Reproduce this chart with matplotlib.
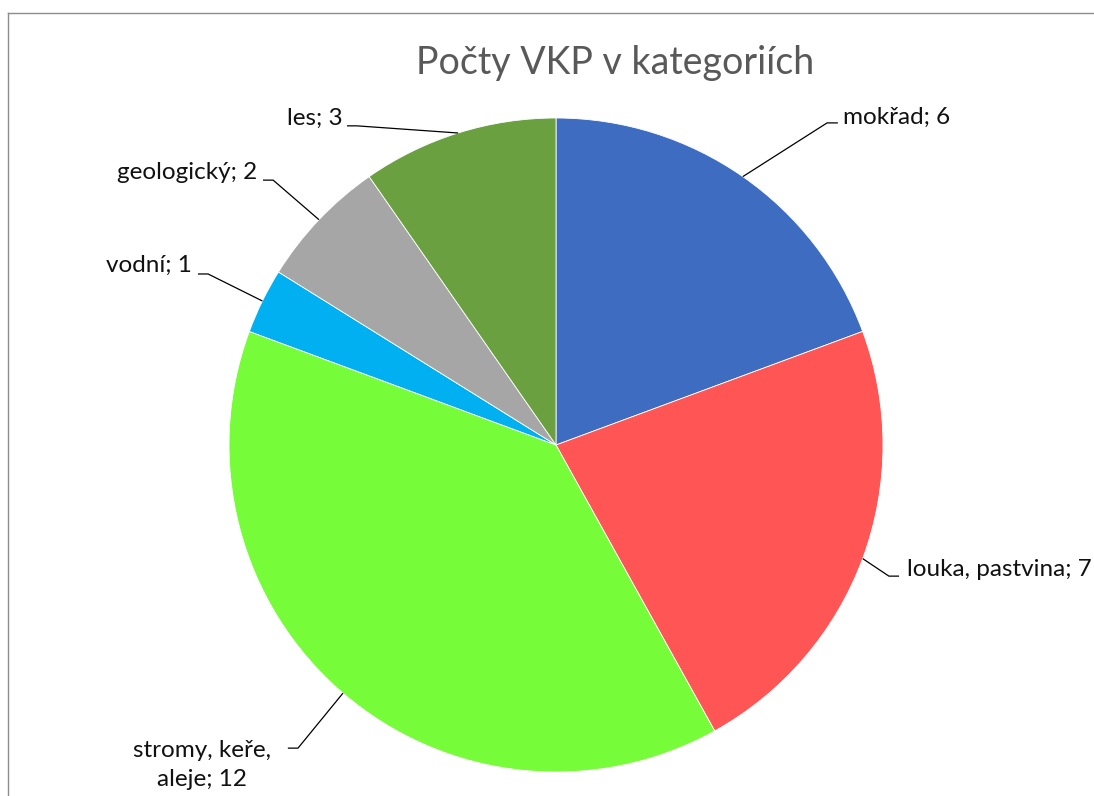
import numpy as np
import matplotlib.pyplot as plt
from matplotlib.lines import Line2D

# Data
categories = ['mokřad', 'louka, pastvina', 'stromy, keře,\naleje', 'vodní', 'geologický', 'les']
values = [6, 7, 12, 1, 2, 3]
colors = ['#3E6CC0', '#FF5555', '#76FC38', '#00B0F0', '#A6A6A6', '#6AA040']

# label layout (data coords, radius = 1): elbow, line end, text anchor, alignment
elbows = [(0.829, 0.985), (1.018, -0.401), (-0.789, -0.927), (-1.064, 0.523), (-0.865, 0.810), (-0.609, 0.976)]
ends = [(0.862, 0.985), (1.049, -0.401), (-0.820, -0.927), (-1.095, 0.523), (-0.896, 0.810), (-0.639, 0.976)]
texts_at = [(0.878, 1.003), (1.073, -0.382), (-1.083, -0.979), (-1.113, 0.550), (-0.914, 0.832), (-0.654, 1.0)]
aligns = ['left', 'left', 'center', 'right', 'right', 'right']

plt.rcParams['font.family'] = ['Lato', 'DejaVu Sans']

W, H = 1094, 796
fig = plt.figure(figsize=(W / 100, H / 100), dpi=100)
cx, cy, r = 556, 445, 327
ax = fig.add_axes([(cx - r) / W, (H - cy - r) / H, 2 * r / W, 2 * r / H])

wedges, _ = ax.pie(values, colors=colors, startangle=90, counterclock=False,
                   radius=1, wedgeprops=dict(edgecolor='white', linewidth=0.6))
ax.set_xlim(-1, 1)
ax.set_ylim(-1, 1)
ax.set_aspect('equal')
ax.axis('off')

for w, cat, val, el, en, tp, ha in zip(wedges, categories, values, elbows, ends, texts_at, aligns):
    mid = np.deg2rad((w.theta1 + w.theta2) / 2)
    sx, sy = np.cos(mid), np.sin(mid)
    ax.plot([sx, el[0], en[0]], [sy, el[1], en[1]], color='black', lw=0.9,
            clip_on=False, solid_capstyle='butt')
    ax.text(tp[0], tp[1], f'{cat}; {val}', ha=ha, va='center', multialignment='center',
            fontsize=17.5, color='#111111', clip_on=False, linespacing=1.45)

fig.text(615 / W, 1 - 63 / H, 'Počty VKP v kategoriích', ha='center', va='center',
         fontsize=27, color='#595959')

# chart frame (partly cropped)
fig.add_artist(Line2D([8 / W, 8 / W], [0, 1 - 13 / H], transform=fig.transFigure, color='#8C8C8C', lw=1))
fig.add_artist(Line2D([8 / W, 1], [1 - 13 / H, 1 - 13 / H], transform=fig.transFigure, color='#8C8C8C', lw=1))

fig.savefig('out.png', dpi=100)
